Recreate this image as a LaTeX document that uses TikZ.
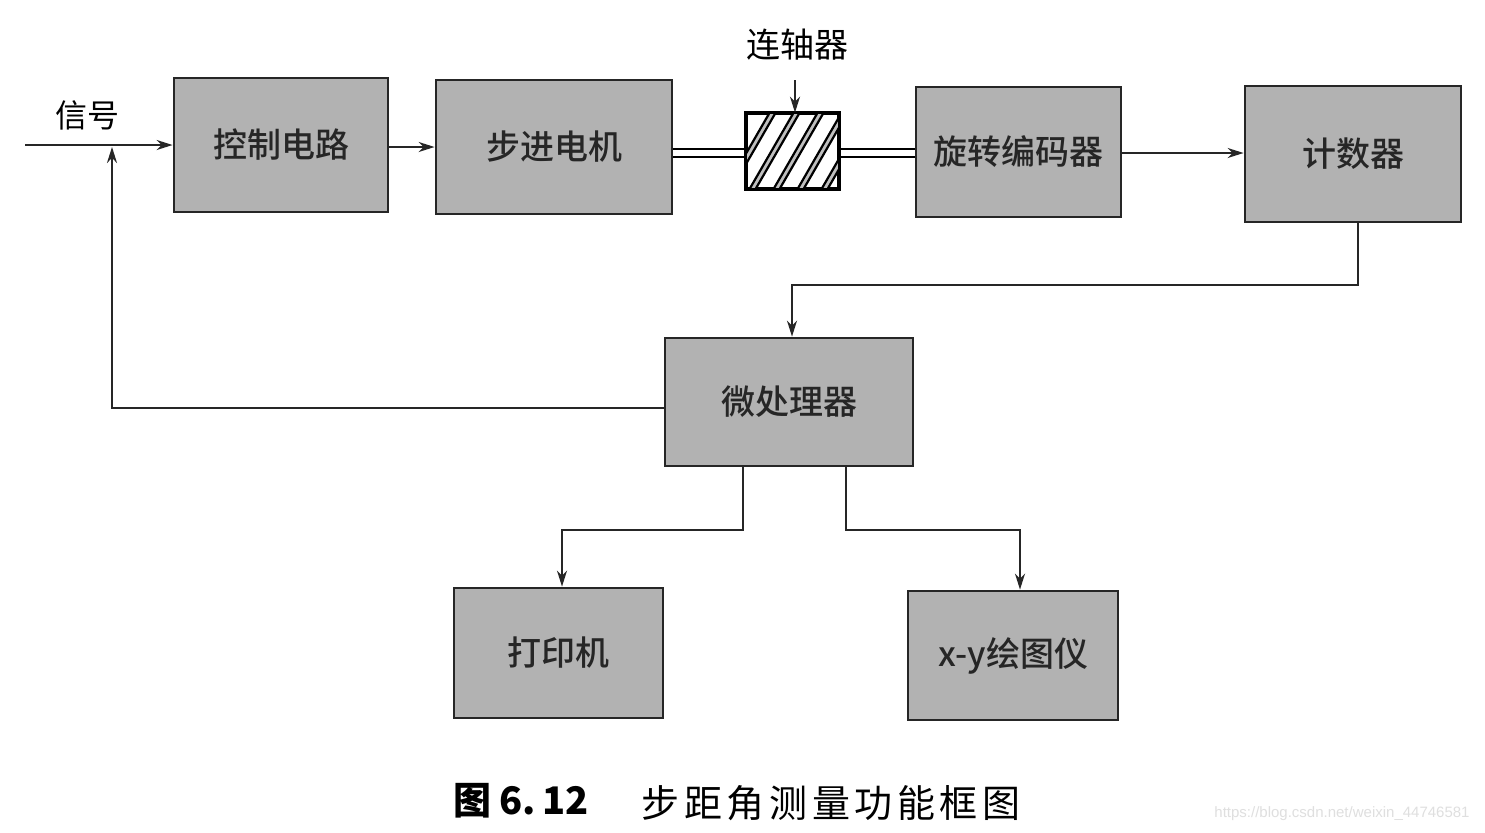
\documentclass[tikz,border=0pt]{standalone}
\usepackage{fontspec}
\usetikzlibrary{arrows.meta,calc}
\newfontfamily\cjk{Noto Sans CJK SC}
\newfontfamily\cjkmed{Noto Sans CJK SC Medium}
\newfontfamily\cjkcap[LetterSpace=12]{Noto Sans CJK SC}
\newfontfamily\wmfont{Liberation Sans}
\begin{document}
\begin{tikzpicture}[x=0.5pt,y=-0.5pt,
  box/.style={draw=black!85,line width=1.4pt,fill=gray!60,inner sep=0pt,
    font=\cjkmed\fontsize{17}{17}\selectfont,text=black!85},
  conn/.style={line width=1.1pt,draw=black!85},
  arr/.style={conn,-{Stealth[length=8pt,width=5pt]}},
  shaft/.style={line width=1.4pt,draw=black},
  lbl/.style={font=\cjk\fontsize{16}{16}\selectfont,inner sep=0pt}]
\useasboundingbox (0,0) rectangle (1485,832);
\fill[white] (0,0) rectangle (1485,832);

% boxes
\node[box,minimum width=107pt,minimum height=67pt] (ctrl) at (281,145) {控制电路};
\node[box,minimum width=118pt,minimum height=67pt] (motor) at (554,147) {步进电机};
\node[draw=black,line width=1.4pt,fill=white,minimum width=45.5pt,minimum height=37pt,inner sep=0pt] (cpl) at (792.5,151) {};
\node[box,minimum width=102.5pt,minimum height=65pt] (enc) at (1018.5,152) {旋转编码器};
\node[box,minimum width=108pt,minimum height=68pt] (cnt) at (1353,154) {计数器};
\node[box,minimum width=124pt,minimum height=64pt] (mcu) at (789,402) {微处理器};
\node[box,minimum width=104.5pt,minimum height=65pt] (prn) at (558.5,653) {打印机};
\node[box,minimum width=105pt,minimum height=64.5pt] (plt) at (1013,655.5) {x-y绘图仪};

% hatching of coupler
\begin{scope}
\clip (cpl.south west) rectangle (cpl.north east);
\foreach \i in {0,...,5}{
  \fill[gray!50] (725+\i*24,190) -- (770+\i*24,112) -- (776+\i*24,112) -- (731+\i*24,190) -- cycle;
  \draw[line width=1.1pt] (725+\i*24,190) -- (770+\i*24,112);
  \draw[line width=1.1pt] (731+\i*24,190) -- (776+\i*24,112);
}
\end{scope}
\draw[line width=1.6pt] (cpl.south west) rectangle (cpl.north east);

% labels
\node[lbl] (sig) at (87,115) {信号};
\node[lbl,font=\cjk\fontsize{17}{17}\selectfont] (cpllbl) at (797,45) {连轴器};

% input signal
\coordinate (in) at (25,145);
\draw[arr] (in) -- (ctrl.west |- in);

% control -> motor
\draw[arr] (ctrl.east |- 0,147) -- (motor.west |- 0,147);

% shafts
\draw[shaft] (motor.east |- 0,149) -- (cpl.west |- 0,149);
\draw[shaft] (motor.east |- 0,157) -- (cpl.west |- 0,157);
\draw[shaft] (cpl.east |- 0,149) -- (enc.west |- 0,149);
\draw[shaft] (cpl.east |- 0,157) -- (enc.west |- 0,157);

% coupler pointer
\coordinate (cl) at (795,80);
\draw[arr] (cl) -- (cpl.north -| cl);

% encoder -> counter
\draw[arr] (enc.east |- 0,153) -- (cnt.west |- 0,153);

% counter -> mcu
\draw[arr] (cnt.south -| 1358,0) -- (1358,285) -| (mcu.north -| 792,0);

% mcu -> feedback
\coordinate (fb) at (112,147);
\draw[arr] (mcu.west |- 0,408) -| (fb);

% mcu -> printer, plotter
\draw[arr] (mcu.south -| 743,0) -- (743,530) -| (prn.north -| 562,0);
\draw[arr] (mcu.south -| 846,0) -- (846,530) -| (plt.north -| 1020,0);

% caption
\node[inner sep=0pt,font=\cjk\bfseries\fontsize{19}{19}\selectfont] (capa) at (521,801) {图 6.\,12};
\node[inner sep=0pt,font=\cjkcap\fontsize{19}{19}\selectfont] (capb) at (831,803) {步距角测量功能框图};

% watermark
\node[inner sep=0pt,text=gray!25,font=\wmfont\fontsize{7.5}{7.5}\selectfont] (wm) at (1342,814) {https://blog.csdn.net/weixin\_44746581};
\end{tikzpicture}
\end{document}
